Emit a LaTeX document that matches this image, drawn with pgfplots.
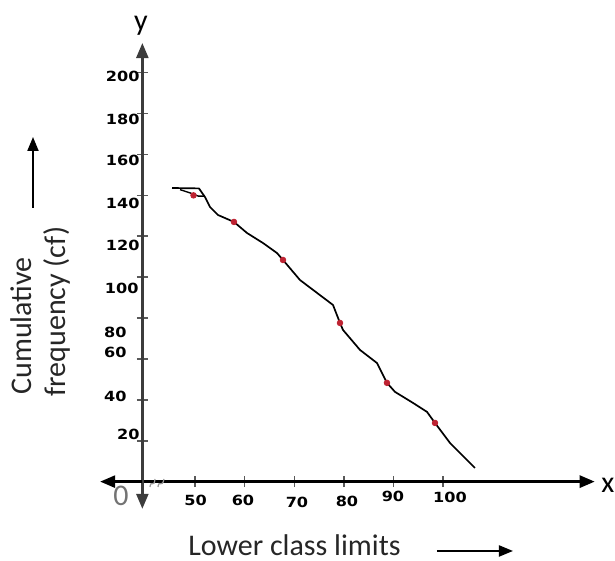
\documentclass[border=0pt]{standalone}
\usepackage{pgfplots}
\pgfplotsset{compat=1.18}
\usepackage{graphicx}
\usepackage{fontspec}
\setmainfont{Carlito}
\newfontfamily\tickfont{DejaVu Sans}
\usetikzlibrary{arrows.meta}

\definecolor{redmark}{RGB}{190,35,50}
\definecolor{axisgray}{RGB}{60,60,60}

% tick numbers: bold, a little wider than usual
\newcommand{\tl}[1]{{\tickfont\bfseries\fontsize{7}{8}\selectfont\scalebox{1.15}[1]{#1}}}
\newcommand{\lab}{\fontsize{15}{18}\selectfont}

\begin{document}
\begin{tikzpicture}
\begin{axis}[
	scale only axis,
	width=226.2pt,
	height=232.9pt,
	xmin=39.4, xmax=130.5,
	ymin=-13.3, ymax=214.5,
	axis x line=middle,
	axis y line=left,
	x axis line style={line width=1.3pt, black, -{Triangle[length=7.5pt,width=6pt]}},
	y axis line style={line width=1.2pt, axisgray, {Triangle[length=7.5pt,width=6pt]}-{Triangle[length=7.5pt,width=6pt]}},
	xtick={50,60,...,100},
	ytick={20,40,...,200},
	xticklabels={},
	yticklabels={},
	tick align=center,
	major tick length=5.5pt,
	tick style={line width=0.8pt, black!65},
	clip=false,
]
% ogive (hand drawn in the original)
\addplot[line width=0.85pt, black, line join=round] coordinates {
	(45.37,143.6) (50.8,143.4) (52.01,139.2) (53.02,134.3) (54.63,130.4)
	(57.85,127.0) (60.47,121.6) (63.69,116.7) (66.51,111.8) (67.72,108.4)
	(71.14,98.6) (77.79,86.4) (79.20,77.6) (79.80,74.2) (83.23,64.4)
	(86.65,58.0) (88.66,48.3) (90.27,43.9) (93.9,38.5) (96.72,34.1)
	(98.33,28.7) (101.35,18.9) (106.38,6.7)
};
\addplot[line width=0.7pt, black, line join=round] coordinates {
	(47.0,142.8) (49.0,141.2) (50.7,139.6) (52.0,139.6)
};
\addplot[only marks, mark=*, mark size=1.4pt, color=redmark] coordinates {
	(49.7,140.0) (57.85,127.0) (67.72,108.4) (79.2,77.6) (88.66,48.3) (98.33,28.7)
};
% left part of the x axis, beyond the y axis
\draw[line width=1.3pt, black, -{Triangle[length=7.5pt,width=6pt]}]
	(axis cs:39.4,0) -- (axis cs:30.9,0);
\coordinate (tl) at (axis cs:10.73,235.55);
\coordinate (br) at (axis cs:134.58,-38.78);
\end{axis}

% texts, placed in pixel coordinates of the picture
\begin{scope}[shift={(tl)}, x=0.5pt, y=-0.5pt, every node/.style={inner sep=0pt}]
	% y tick labels
	\node[anchor=east] at (140,76)  {\tl{200}};
	\node[anchor=east] at (140,119) {\tl{180}};
	\node[anchor=east] at (140,160) {\tl{160}};
	\node[anchor=east] at (140,203) {\tl{140}};
	\node[anchor=east] at (140,245) {\tl{120}};
	\node[anchor=east] at (139,288) {\tl{100}};
	\node[anchor=east] at (127,332) {\tl{80}};
	\node[anchor=east] at (127,352) {\tl{60}};
	\node[anchor=east] at (127,396) {\tl{40}};
	\node[anchor=east] at (140,434) {\tl{20}};
	% x tick labels
	\node at (195.7,500) {\tl{50}};
	\node at (243,500)   {\tl{60}};
	\node at (297,502)   {\tl{70}};
	\node at (347,501)   {\tl{80}};
	\node at (393,496)   {\tl{90}};
	\node at (450,497)   {\tl{100}};
	% origin, axis names
	\node[text=black!55] at (121,496) {\lab 0};
	\node[anchor=base] at (141,31) {\lab y};
	\node[anchor=base west] at (601,493) {\lab x};
	% axis break on the x axis
	\draw[black!40, line width=0.6pt] (150,487) .. controls (151,479) and (154,489) .. (155,479);
	\draw[black!40, line width=0.6pt] (158,487) .. controls (159,479) and (162,489) .. (164,479);
	% axis titles with arrows
	\node[rotate=90, anchor=base west, text=black!85] at (32,395) {\lab Cumulative};
	\node[rotate=90, anchor=base west, text=black!85] at (66,397) {\lab frequency (cf)};
	\draw[line width=1pt, -{Triangle[length=7pt,width=5.5pt]}] (33,208) -- (33,137);
	\node[anchor=base west, text=black!85] at (188,556) {\lab Lower class limits};
	\draw[line width=1pt, -{Triangle[length=7pt,width=5.5pt]}] (437,551) -- (513,551);
\end{scope}
\pgfresetboundingbox
\path (tl) rectangle (br);
\end{tikzpicture}
\end{document}
